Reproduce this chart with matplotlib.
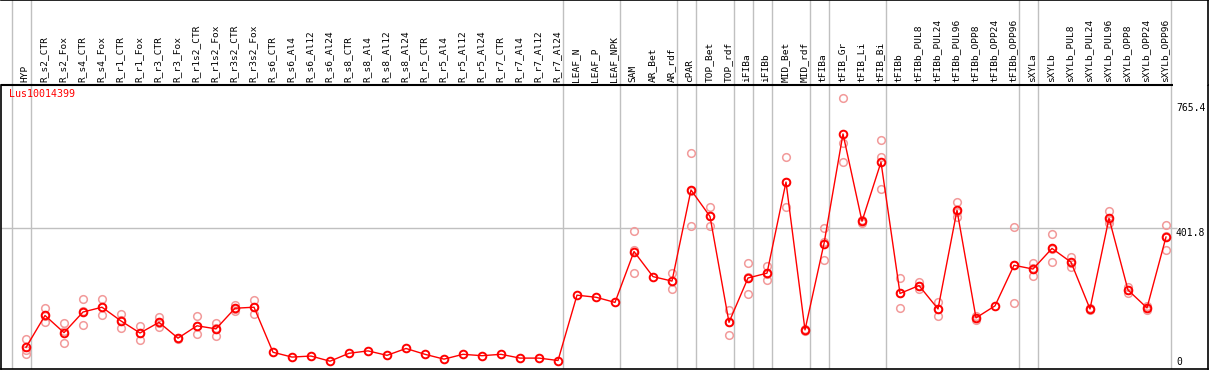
import numpy as np
from matplotlib import pyplot as plt

# samples, left to right
samples = ['HYP', 'R_s2_CTR', 'R_s2_Fox', 'R_s4_CTR', 'R_s4_Fox', 'R_r1_CTR', 'R_r1_Fox',
           'R_r3_CTR', 'R_r3_Fox', 'R_r1s2_CTR', 'R_r1s2_Fox', 'R_r3s2_CTR', 'R_r3s2_Fox',
           'R_s6_CTR', 'R_s6_Al4', 'R_s6_Al12', 'R_s6_Al24', 'R_s8_CTR', 'R_s8_Al4',
           'R_s8_Al12', 'R_s8_Al24', 'R_r5_CTR', 'R_r5_Al4', 'R_r5_Al12', 'R_r5_Al24',
           'R_r7_CTR', 'R_r7_Al4', 'R_r7_Al12', 'R_r7_Al24', 'LEAF_N', 'LEAF_P', 'LEAF_NPK',
           'SAM', 'AR_Bet', 'AR_rdf', 'cPAR', 'TOP_Bet', 'TOP_rdf', 'iFIBa', 'iFIBb',
           'MID_Bet', 'MID_rdf', 'tFIBa', 'tFIB_Gr', 'tFIB_Li', 'tFIB_Bi', 'tFIBb',
           'tFIBb_PUL8', 'tFIBb_PUL24', 'tFIBb_PUL96', 'tFIBb_OPP8', 'tFIBb_OPP24',
           'tFIBb_OPP96', 'sXYLa', 'sXYLb', 'sXYLb_PUL8', 'sXYLb_PUL24', 'sXYLb_PUL96',
           'sXYLb_OPP8', 'sXYLb_OPP24', 'sXYLb_OPP96']

# mean expression per sample
means = [54, 147, 97, 157, 171, 131, 96, 127, 81, 117, 108, 168, 171,
         40, 26, 29, 14, 37, 44, 31, 51, 34, 20, 34, 30, 34, 23, 23, 16,
         206, 200, 185, 333, 260, 247, 512, 435, 127, 256, 270, 535, 105,
         356, 675, 421, 593, 211, 234, 166, 453, 140, 175, 293, 282, 342,
         302, 166, 430, 221, 169, 375]

# replicates (None = no replicate shown)
rep1 = [80, 168, 124, 194, 194, 150, 116, 143, 82, 144, 126, 177, 192,
        None, None, None, None, None, None, None, None, None, None, None, None, None, None, None, None,
        None, None, None, 393, None, 271, 620, 462, 163, 300, 292, 607, 108,
        401, 780, 425, 656, 255, 245, 187, 476, 146, None, 403, 300, 384,
        318, 170, 451, 231, 175, 410]
rep2 = [48, 146, 101, 159, 172, 133, 96, 125, 80, 115, 111, 166, 171,
        None, None, None, None, None, None, None, None, None, None, None, None, None, None, None, None,
        None, None, None, 337, None, 247, 509, 436, 129, 259, 269, 536, 102,
        360, 648, 416, 609, 211, 233, 167, 449, 134, None, 294, 285, 340,
        299, 163, 424, 221, 163, 379]
rep3 = [35, 127, 66, 118, 147, 110, 76, 113, 81, 92, 87, 161, 150,
        None, None, None, None, None, None, None, None, None, None, None, None, None, None, None, None,
        None, None, None, 270, None, 223, 407, 407, 89, 209, 249, 462, 105,
        307, 593, 421, 515, 168, 224, 144, 434, 140, None, 182, 261, 302,
        289, 165, 415, 211, 169, 336]

# last sample of each group (separator lines drawn just after these)
group_ends = [-1, 0, 28, 31, 34, 35, 37, 38, 39, 41, 42, 45, 52, 53, 60]

gene = 'Lus10014399'
ytick_vals = [765.4, 401.8]

W, H = 1209, 370
fig = plt.figure(figsize=(W / 100, H / 100), dpi=100)
mono = 'DejaVu Sans Mono'

# pixel helpers: sample i sits at 26 + 19*i px
def px2x(p):
    return (p - 26) / 19.0

x0, x1 = px2x(1), px2x(1208)
ybot, ytop = -8.7, 817.3

ax = fig.add_axes([1 / W, 1 - 369 / H, 1207 / W, 284 / H])
hd = fig.add_axes([1 / W, 1 - 85 / H, 1207 / W, 85 / H])

for a in (ax, hd):
    a.set_xlim(x0, x1)
    a.set_xticks([])
    a.set_yticks([])
    for g in group_ends:
        a.axvline(g + 0.24, color='#c0c0c0', lw=1, zorder=0)

ax.set_ylim(ybot, ytop)
for s in ax.spines.values():
    s.set_color('black')
    s.set_linewidth(1.2)
ax.spines['top'].set_visible(False)

hd.set_ylim(0, 1)
hd.spines['left'].set_visible(False)
hd.spines['bottom'].set_visible(False)
hd.spines['top'].set_linewidth(1.2)
hd.spines['right'].set_linewidth(1.2)
hd.hlines(0.0, x0, px2x(1173), color='black', lw=1.5, clip_on=False)

# sample labels
for i, name in enumerate(samples):
    hd.text(i - 0.05, 0.03, name, rotation=90, ha='center', va='bottom',
            family=mono, fontsize=6.8)

# horizontal grid line and value labels
ax.hlines(ytick_vals[1], x0, px2x(1177), color='#c0c0c0', lw=1, zorder=0)
for v in ytick_vals:
    ax.text(px2x(1176), v, str(v), ha='left', va='top', family=mono, fontsize=7)
ax.text(px2x(1176), ybot + 6, '0', ha='left', va='bottom', family=mono, fontsize=7)

ax.text(px2x(9), 790, gene, color='red', ha='left', va='center', family=mono, fontsize=7.2)

xs = np.arange(len(samples))
for rep in (rep1, rep2, rep3):
    rx = [i for i, v in enumerate(rep) if v is not None]
    ry = [v for v in rep if v is not None]
    ax.plot(rx, ry, ls='none', marker='o', ms=5.5, mfc='none', mec='#f29a9a', mew=1.1, zorder=2)

ax.plot(xs, means, color='red', lw=1, zorder=3)
ax.plot(xs, means, ls='none', marker='o', ms=5.5, mfc='none', mec='red', mew=1.4, zorder=4)

fig.savefig('out.png', dpi=100)
